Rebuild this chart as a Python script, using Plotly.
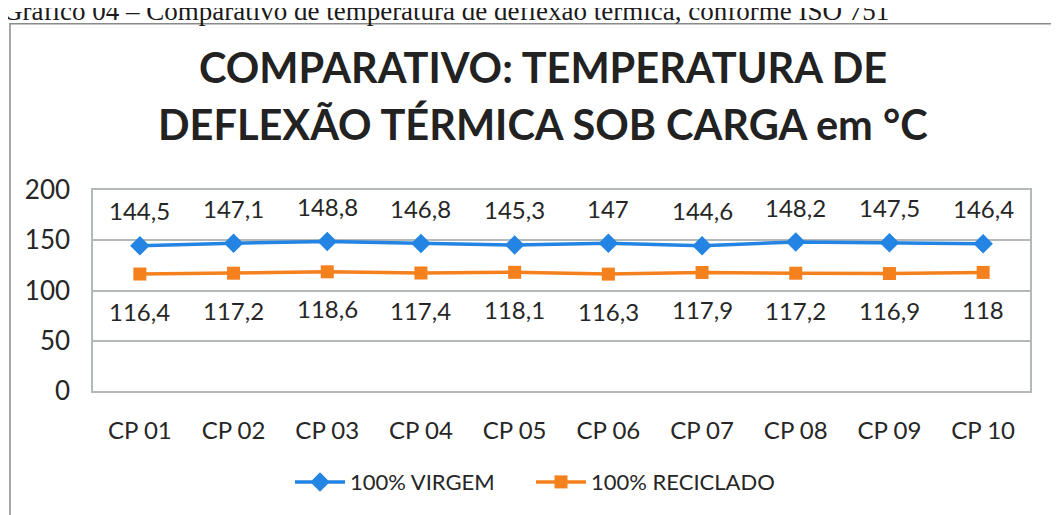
import plotly.graph_objects as go

categories = ["CP 01", "CP 02", "CP 03", "CP 04", "CP 05", "CP 06", "CP 07", "CP 08", "CP 09", "CP 10"]
virgem = [144.5, 147.1, 148.8, 146.8, 145.3, 147, 144.6, 148.2, 147.5, 146.4]
reciclado = [116.4, 117.2, 118.6, 117.4, 118.1, 116.3, 117.9, 117.2, 116.9, 118]
y_ticks = [0, 50, 100, 150, 200]
title_lines = ["COMPARATIVO: TEMPERATURA DE", "DEFLEXÃO TÉRMICA SOB CARGA em °C"]

# the page body has an 8px margin, so work in window pixels and shift
OFF = 8
W, H = 1059 - OFF, 515 - OFF
L, R, T, B = 93, 1030, 190, 393   # plot area in window pixels

def px(x):
    return (x - L) / (R - L)

def py(y):
    return (B - y) / (B - T)

def fmt(v):
    s = ("%.1f" % v).replace(".", ",")
    return s[:-2] if s.endswith(",0") else s

BLUE = "#2384e3"
ORANGE = "#f5801e"
TXT = "#262626"
GRID = "#b3b9b7"
FONT = "Lato, Open Sans, sans-serif"

fig = go.Figure()
fig.add_trace(go.Scatter(x=categories, y=virgem, name="100% VIRGEM", mode="lines+markers",
                         line=dict(color=BLUE, width=3.5), legend="legend",
                         marker=dict(symbol="diamond", size=15, color=BLUE)))
fig.add_trace(go.Scatter(x=categories, y=reciclado, name="100% RECICLADO", mode="lines+markers",
                         line=dict(color=ORANGE, width=3.5), legend="legend2",
                         marker=dict(symbol="square", size=13, color=ORANGE)))

ann = []
for c, v in zip(categories, virgem):
    ann.append(dict(x=c, y=v, xref="x", yref="y", text=fmt(v), showarrow=False,
                    yshift=35, font=dict(size=24, color=TXT, family=FONT)))
for c, v in zip(categories, reciclado):
    ann.append(dict(x=c, y=v, xref="x", yref="y", text=fmt(v), showarrow=False,
                    yshift=-37, font=dict(size=24, color=TXT, family=FONT)))

ann.append(dict(x=px(1), y=py(9), xref="paper", yref="paper", xanchor="left", yanchor="middle",
                text="Gráfico 04 – Comparativo de temperatura de deflexão térmica, conforme ISO 751",
                showarrow=False, font=dict(size=27, color="#1a1a1a", family="Liberation Serif, serif")))
for line, ypx in zip(title_lines, [66, 123]):
    ann.append(dict(x=px(543), y=py(ypx), xref="paper", yref="paper", xanchor="center", yanchor="middle",
                    text="<b>" + line + "</b>",
                    showarrow=False, font=dict(size=41.5, color="#222222", family=FONT)))

legend_style = dict(orientation="h", xanchor="left", yanchor="middle", y=py(485),
                    font=dict(size=22, color=TXT, family=FONT), itemwidth=50,
                    bgcolor="rgba(0,0,0,0)")

fig.update_layout(
    width=W, height=H,
    margin=dict(l=L - OFF, r=W - (R - OFF), t=T - OFF, b=H - (B - OFF), pad=0),
    paper_bgcolor="white", plot_bgcolor="white",
    showlegend=True,
    legend=dict(x=px(290), **legend_style),
    legend2=dict(x=px(531), **legend_style),
    annotations=ann,
    shapes=[dict(type="rect", xref="paper", yref="paper",
                 x0=px(10), x1=px(1090), y0=py(560), y1=py(22),
                 line=dict(color="#8a8a8a", width=1.5), layer="below")],
    xaxis=dict(showgrid=False, showline=True, mirror=True, linecolor=GRID, linewidth=1.5,
               tickfont=dict(size=24, color=TXT, family=FONT), ticks="", ticklabelstandoff=17,
               range=[-0.5, 9.5]),
    yaxis=dict(range=[0, 200], tickvals=y_ticks, showgrid=True, gridcolor=GRID, gridwidth=1.5,
               showline=True, mirror=True, linecolor=GRID, linewidth=1.5, zeroline=False,
               tickfont=dict(size=26, color=TXT, family=FONT), ticks="", ticklabelstandoff=16),
)

fig.write_html("out.html")
